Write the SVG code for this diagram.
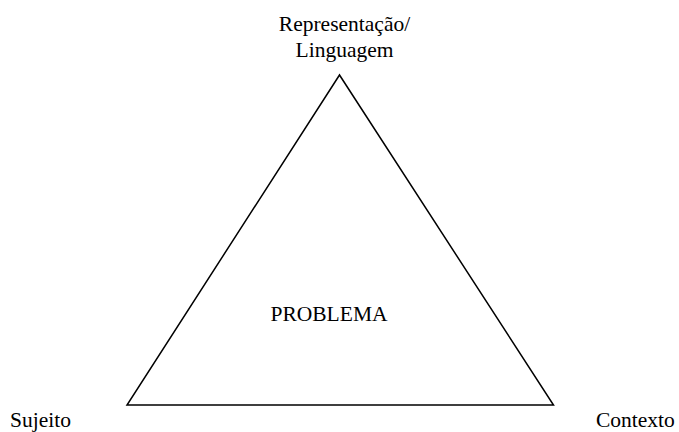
<svg xmlns="http://www.w3.org/2000/svg" width="679" height="432" viewBox="0 0 679 432">
<style>
text{font-family:"Liberation Serif","Times New Roman",serif;font-size:21.5px;fill:#000}
.edge{fill:none;stroke:#000;stroke-width:1.5}
</style>
<rect width="679" height="432" fill="#fff"/>
<g id="connectors">
<polygon class="edge" points="339.5,75 127,405 553.5,405"/>
</g>
<g id="node-representacao">
<text x="344.5" y="31" text-anchor="middle">Representação/</text>
<text x="344.5" y="57" text-anchor="middle">Linguagem</text>
</g>
<g id="node-problema"><text x="329" y="321" text-anchor="middle">PROBLEMA</text></g>
<g id="node-sujeito"><text x="10" y="427">Sujeito</text></g>
<g id="node-contexto"><text x="596" y="427">Contexto</text></g>
</svg>
